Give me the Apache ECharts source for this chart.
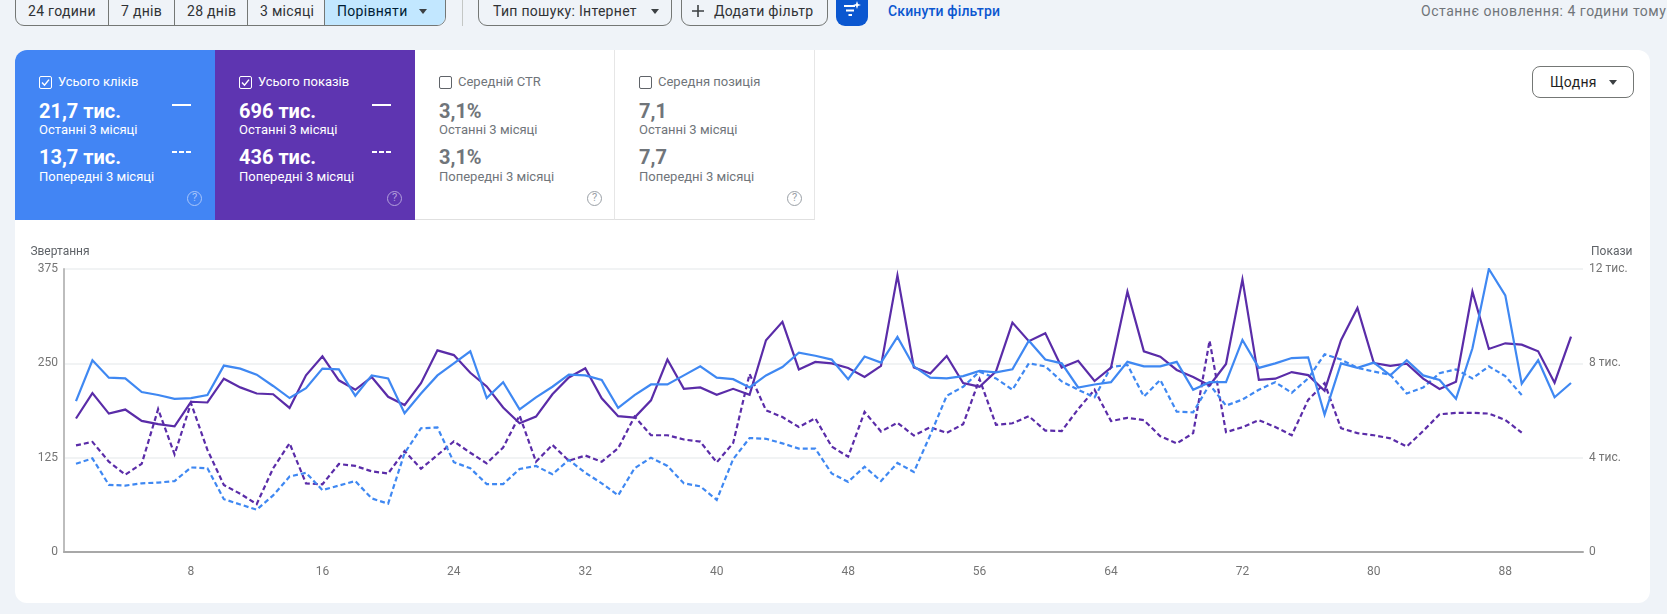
<!DOCTYPE html>
<html lang="uk">
<head>
<meta charset="utf-8">
<script src="https://cdn.jsdelivr.net/npm/echarts@6/dist/echarts.min.js"></script>
<style>
html,body{margin:0;padding:0;background:#eff3f8;width:1667px;height:614px;overflow:hidden;font-family:Roboto,sans-serif;}
.a{position:absolute;white-space:nowrap;}
.card{left:15px;top:50px;width:1635px;height:553px;background:#fff;border-radius:12px;}
.tile{top:50px;height:170px;box-sizing:border-box;}
.t{position:absolute;white-space:nowrap;transform:translateY(-50%);line-height:1;}
.lab{font-size:13px;}
.val{font-size:20px;font-weight:700;}
.sub{font-size:13px;}
.white{color:#fff;}
.grey{color:#70757a;}
.cb{position:absolute;left:24px;top:26px;width:11px;height:11px;border:1.3px solid;border-radius:2px;}
.cb svg{position:absolute;left:0;top:0;}
.ln{position:absolute;left:157px;width:19px;height:2px;background:#fff;}
.dl{position:absolute;left:157px;width:19px;height:2px;background:repeating-linear-gradient(90deg,#fff 0,#fff 5px,transparent 5px,transparent 7px);}
.help{position:absolute;top:141px;width:15px;height:15px;box-sizing:border-box;border:1.5px solid;border-radius:50%;font-size:11px;line-height:12px;text-align:center;}
.btn{top:-12px;height:38px;box-sizing:border-box;border:1px solid #747775;border-radius:0 0 9px 9px;}
.bt{position:absolute;top:11px;transform:translateY(-50%);font-size:14px;color:#303235;white-space:nowrap;font-weight:400;letter-spacing:.3px;line-height:1;}
.arr{position:absolute;width:0;height:0;border-left:4.5px solid transparent;border-right:4.5px solid transparent;border-top:5px solid #3c4043;}
#chart{position:absolute;left:0;top:0;width:1667px;height:614px;}
</style>
</head>
<body>
<div class="a card"></div>

<div class="a" style="left:15px;top:-12px;width:431px;height:38px;box-sizing:border-box;border:1px solid #747775;border-radius:0 0 9px 9px;overflow:hidden;">
  <div style="position:absolute;left:308px;top:0;right:0;bottom:0;background:#c2e7ff;"></div>
  <div style="position:absolute;left:92px;top:0;bottom:0;width:1px;background:#747775;"></div>
  <div style="position:absolute;left:158px;top:0;bottom:0;width:1px;background:#747775;"></div>
  <div style="position:absolute;left:231px;top:0;bottom:0;width:1px;background:#747775;"></div>
  <div style="position:absolute;left:308px;top:0;bottom:0;width:1px;background:#747775;"></div>
</div>
<div class="bt" style="left:28px;">24 години</div>
<div class="bt" style="left:121px;">7 днів</div>
<div class="bt" style="left:187px;">28 днів</div>
<div class="bt" style="left:260px;">3 місяці</div>
<div class="bt" style="left:337px;color:#001d35;">Порівняти</div>
<div class="arr" style="left:419px;top:9px;"></div>
<div class="a" style="left:462px;top:0;width:1px;height:26px;background:#c4c7c5;"></div>

<div class="a btn" style="left:478px;width:194px;"></div>
<div class="bt" style="left:493px;">Тип пошуку: Інтернет</div>
<div class="arr" style="left:651px;top:9px;"></div>
<div class="a btn" style="left:681px;width:147px;"></div>
<svg class="a" style="left:691px;top:4px;" width="14" height="14"><path d="M7 1V13M1 7H13" stroke="#3c4043" stroke-width="1.6"/></svg>
<div class="bt" style="left:714px;">Додати фільтр</div>
<div class="a" style="left:836px;top:-12px;width:32px;height:38px;background:#0b57d0;border-radius:0 0 9px 9px;"></div>
<svg class="a" style="left:842px;top:0;" width="20" height="18"><path d="M2 6H13M4 10.5H12M6.5 15H10" stroke="#fff" stroke-width="2" fill="none"/><path d="M15 1L16 4L19 5L16 6L15 9L14 6L11 5L14 4Z" fill="#fff"/></svg>
<div class="bt" style="left:888px;color:#0b57d0;font-weight:500;letter-spacing:.15px;">Скинути фільтри</div>
<div class="bt" style="left:1421px;color:#70757a;letter-spacing:.52px;">Останнє оновлення: 4 години тому</div>

<div class="a tile" style="left:15px;width:200px;background:#4285f4;border-radius:12px 0 0 0;">
  <div class="cb white" style="border-color:#fff;"><svg width="11" height="11"><path d="M2 5.5L4.5 8.2L9 2.6" stroke="#fff" stroke-width="1.5" fill="none"/></svg></div>
  <div class="t lab white" style="left:43px;top:31px;">Усього кліків</div>
  <div class="t val white" style="left:24px;top:61px;">21,7 тис.</div>
  <div class="ln" style="top:54px;"></div>
  <div class="t sub white" style="left:24px;top:79px;">Останні 3 місяці</div>
  <div class="t val white" style="left:24px;top:107px;">13,7 тис.</div>
  <div class="dl" style="top:101px;"></div>
  <div class="t sub white" style="left:24px;top:126px;">Попередні 3 місяці</div>
  <div class="help" style="left:172px;color:#a9c6fa;border-color:#a9c6fa;">?</div>
</div>
<div class="a tile" style="left:215px;width:200px;background:#5e35b1;">
  <div class="cb white" style="border-color:#fff;"><svg width="11" height="11"><path d="M2 5.5L4.5 8.2L9 2.6" stroke="#fff" stroke-width="1.5" fill="none"/></svg></div>
  <div class="t lab white" style="left:43px;top:31px;">Усього показів</div>
  <div class="t val white" style="left:24px;top:61px;">696 тис.</div>
  <div class="ln" style="top:54px;"></div>
  <div class="t sub white" style="left:24px;top:79px;">Останні 3 місяці</div>
  <div class="t val white" style="left:24px;top:107px;">436 тис.</div>
  <div class="dl" style="top:101px;"></div>
  <div class="t sub white" style="left:24px;top:126px;">Попередні 3 місяці</div>
  <div class="help" style="left:172px;color:#b3a0dc;border-color:#b3a0dc;">?</div>
</div>
<div class="a tile" style="left:415px;width:200px;background:#fff;border-right:1px solid #e6e6e6;border-bottom:1px solid #e0e0e0;">
  <div class="cb" style="border-color:#5f6368;"></div>
  <div class="t lab grey" style="left:43px;top:31px;">Середній CTR</div>
  <div class="t val grey" style="left:24px;top:61px;">3,1%</div>
  <div class="t sub grey" style="left:24px;top:79px;">Останні 3 місяці</div>
  <div class="t val grey" style="left:24px;top:107px;">3,1%</div>
  <div class="t sub grey" style="left:24px;top:126px;">Попередні 3 місяці</div>
  <div class="help" style="left:172px;color:#9aa0a6;border-color:#9aa0a6;">?</div>
</div>
<div class="a tile" style="left:615px;width:200px;background:#fff;border-right:1px solid #e6e6e6;border-bottom:1px solid #e0e0e0;">
  <div class="cb" style="border-color:#5f6368;"></div>
  <div class="t lab grey" style="left:43px;top:31px;">Середня позиція</div>
  <div class="t val grey" style="left:24px;top:61px;">7,1</div>
  <div class="t sub grey" style="left:24px;top:79px;">Останні 3 місяці</div>
  <div class="t val grey" style="left:24px;top:107px;">7,7</div>
  <div class="t sub grey" style="left:24px;top:126px;">Попередні 3 місяці</div>
  <div class="help" style="left:172px;color:#9aa0a6;border-color:#9aa0a6;">?</div>
</div>

<div class="a" style="left:1532px;top:66px;width:102px;height:32px;box-sizing:border-box;border:1px solid #747775;border-radius:8px;"></div>
<div class="bt" style="left:1550px;top:82px;color:#1f1f1f;">Щодня</div>
<div class="arr" style="left:1609px;top:80px;"></div>

<div id="chart"></div>
<script>
const days = Array.from({length: 92}, (_, i) => i + 1);
const tickLabels = [8, 16, 24, 32, 40, 48, 56, 64, 72, 80, 88];
const clicksNow = [200,254,231,230,212,208,203,204,208,247,243,235,220,204,217,243,242,207,234,230,184,210,234,250,266,204,225,189,205,219,235,234,228,191,208,222,222,234,246,231,229,218,234,245,264,260,255,229,259,251,285,246,231,230,233,240,238,242,280,255,250,218,222,225,252,246,246,252,215,225,225,281,244,250,257,258,182,250,244,251,234,254,234,228,203,270,375,340,223,254,205,224];
const clicksPrev = [117,124,89,88,91,92,94,112,111,70,63,56,75,100,105,82,88,94,71,64,131,164,165,119,111,90,90,110,114,103,122,105,91,75,111,125,114,91,87,69,123,151,150,144,137,137,104,93,113,94,118,106,155,207,219,239,230,215,250,246,226,215,205,245,248,206,228,186,185,222,194,202,215,225,211,230,262,255,244,239,235,210,218,237,242,230,246,233,208];
const impressionsNow = [5660,6740,5870,6040,5560,5420,5330,6370,6340,7350,6980,6720,6690,6110,7490,8300,7280,6880,7420,6580,6230,7160,8550,8350,7600,7020,6130,5460,5740,6690,7400,7790,6520,5760,5700,6430,8160,6920,6980,6670,6920,6670,8980,9760,7740,8060,8000,7800,7420,7890,11730,7830,7570,8310,7160,7010,7660,9730,8940,9280,7820,8110,7250,7820,11040,8510,8280,7720,7420,7060,7970,11560,7300,7350,7630,7500,6840,8980,10350,8010,7890,7990,7350,6910,7220,11040,8610,8850,8790,8510,7180,9130];
const impressionsPrev = [4520,4670,3830,3280,3740,6060,4140,6310,4330,2840,2470,2030,3550,4610,2910,2870,3730,3650,3420,3330,4280,3530,4110,4690,4210,3760,4430,5790,3830,4540,3870,4090,3830,4400,5740,4950,4950,4770,4680,3800,4620,7550,6010,5720,5300,5670,4470,4040,5940,5110,5480,4940,5290,5050,5420,7330,5390,5460,5760,5150,5130,6060,6880,5550,5690,5590,4910,4600,5040,8960,5080,5290,5590,5300,4950,6450,7160,5250,5040,4950,4820,4470,5130,5840,5900,5900,5870,5600,5060];

const BLUE = '#3f88f2', PURPLE = '#5a2ca8', LABEL = '#757575';
const pairs = arr => arr.map((v, i) => [days[i], v]);
const line = (name, data, yAxisIndex, color, dashed, z) => ({
  name, type: 'line', data: pairs(data), yAxisIndex, z,
  symbol: 'none', silent: true, smooth: false,
  lineStyle: {color, width: 2.2, type: dashed ? [5, 3] : 'solid', cap: 'butt', join: 'miter'}
});
const chart = echarts.init(document.getElementById('chart'), null, {renderer: 'canvas'});
chart.setOption({
  animation: false,
  backgroundColor: 'transparent',
  tooltip: {show: false},
  legend: {show: false},
  grid: {left: 64, right: 84, top: 269, bottom: 62, containLabel: false},
  xAxis: {
    type: 'value', min: 0.27, max: 92.73,
    axisLine: {show: true, onZero: false, lineStyle: {color: '#a8a8a8', width: 2}},
    axisTick: {show: false},
    splitLine: {show: false},
    axisLabel: {customValues: tickLabels, color: LABEL, fontFamily: 'Roboto', fontSize: 12, margin: 14}
  },
  yAxis: [{
    type: 'value', min: 0, max: 375, interval: 125, position: 'left',
    name: 'Звертання', nameLocation: 'end', nameGap: 11,
    nameTextStyle: {color: '#5f6368', fontFamily: 'Roboto', fontSize: 12, align: 'center', padding: [0, 8, 0, 0]},
    axisLine: {show: true, onZero: false, lineStyle: {color: '#bdbdbd', width: 2}},
    axisTick: {show: false},
    splitLine: {show: true, lineStyle: {color: '#f1f3f4', width: 2}},
    axisLabel: {color: LABEL, fontFamily: 'Roboto', fontSize: 12, margin: 6}
  }, {
    type: 'value', min: 0, max: 12000, interval: 4000, position: 'right',
    name: 'Покази', nameLocation: 'end', nameGap: 11,
    nameTextStyle: {color: '#5f6368', fontFamily: 'Roboto', fontSize: 12, align: 'left', padding: [0, 0, 0, 8]},
    axisLine: {show: false},
    axisTick: {show: false},
    splitLine: {show: false},
    axisLabel: {color: LABEL, fontFamily: 'Roboto', fontSize: 12, margin: 6,
      formatter: v => v === 0 ? '0' : (v / 1000) + ' тис.'}
  }],
  series: [
    line('Покази, попередні', impressionsPrev, 1, PURPLE, true, 2),
    line('Кліки, попередні', clicksPrev, 0, BLUE, true, 3),
    line('Покази, останні', impressionsNow, 1, PURPLE, false, 4),
    line('Кліки, останні', clicksNow, 0, BLUE, false, 5)
  ]
});
</script>
</body>
</html>
